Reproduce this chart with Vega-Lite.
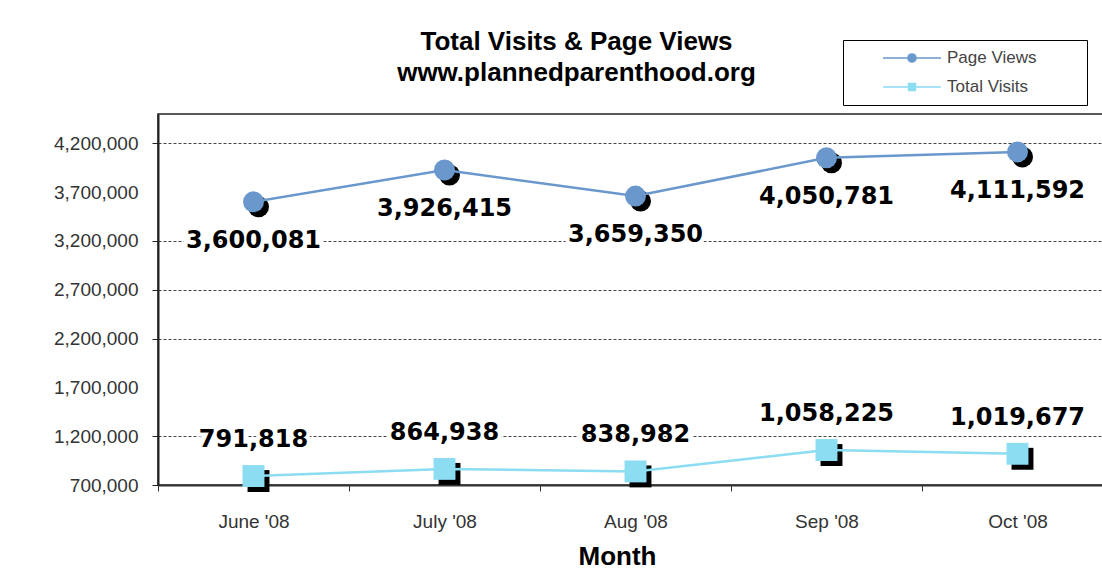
{
  "$schema": "https://vega.github.io/schema/vega-lite/v6.json",
  "autosize": "none",
  "width": 955,
  "height": 371,
  "padding": {"left": 158, "top": 114, "right": 0, "bottom": 90},
  "background": "white",
  "title": {
    "text": ["Total Visits & Page Views", "www.plannedparenthood.org"],
    "font": "Liberation Sans",
    "fontSize": 26,
    "fontWeight": "bold",
    "color": "black",
    "lineHeight": 31,
    "anchor": "middle",
    "frame": "group",
    "offset": -46,
    "dx": -59
  },
  "config": {
    "view": {"stroke": "#222", "strokeWidth": 1.5},
    "axis": {"labelFont": "Liberation Sans", "titleFont": "Liberation Sans"}
  },
  "data": {
    "values": [
      {"month": "June '08", "series": "Page Views", "value": 3600081},
      {"month": "July '08", "series": "Page Views", "value": 3926415},
      {"month": "Aug '08", "series": "Page Views", "value": 3659350},
      {"month": "Sep '08", "series": "Page Views", "value": 4050781},
      {"month": "Oct '08", "series": "Page Views", "value": 4111592},
      {"month": "June '08", "series": "Total Visits", "value": 791818},
      {"month": "July '08", "series": "Total Visits", "value": 864938},
      {"month": "Aug '08", "series": "Total Visits", "value": 838982},
      {"month": "Sep '08", "series": "Total Visits", "value": 1058225},
      {"month": "Oct '08", "series": "Total Visits", "value": 1019677}
    ]
  },
  "encoding": {
    "x": {
      "field": "month",
      "type": "nominal",
      "sort": null,
      "bandPosition": 0.5,
      "scale": {"type": "band", "paddingInner": 0, "paddingOuter": 0},
      "axis": {
        "title": "Month",
        "titleFontSize": 26,
        "titleFontWeight": "bold",
        "titleColor": "black",
        "titleX": 459,
        "titlePadding": 12,
        "labelAngle": 0,
        "labelFontSize": 19,
        "labelColor": "#333",
        "labelPadding": 21,
        "tickBand": "extent",
        "tickSize": 6,
        "tickColor": "#333",
        "domainColor": "#333",
        "domainWidth": 2,
        "grid": false
      }
    },
    "y": {
      "field": "value",
      "type": "quantitative",
      "scale": {"domain": [700000, 4500000], "nice": false, "zero": false},
      "axis": {
        "title": null,
        "values": [700000, 1200000, 1700000, 2200000, 2700000, 3200000, 3700000, 4200000],
        "format": ",d",
        "labelFontSize": 19,
        "labelColor": "#333",
        "labelPadding": 14,
        "tickSize": 6,
        "tickColor": "#222",
        "domainColor": "#222",
        "domainWidth": 2,
        "grid": true,
        "gridColor": "#444",
        "gridDash": [3, 2],
        "gridWidth": 1,
        "gridOpacity": {"condition": {"test": "datum.value === 3700000 || datum.value === 1700000 || datum.value === 700000", "value": 0}, "value": 1},
        "tickOpacity": {"condition": {"test": "datum.value === 3700000 || datum.value === 1700000", "value": 0}, "value": 1}
      }
    }
  },
  "layer": [
    {
      "transform": [{"filter": "datum.series === 'Page Views'"}],
      "mark": {"type": "point", "shape": "circle", "filled": true, "size": 440, "color": "black", "opacity": 1, "xOffset": 5, "yOffset": 5}
    },
    {
      "transform": [{"filter": "datum.series === 'Total Visits'"}],
      "mark": {"type": "point", "shape": "square", "filled": true, "size": 480, "color": "black", "opacity": 1, "xOffset": 5, "yOffset": 5}
    },
    {
      "mark": {"type": "line", "strokeWidth": 2.5},
      "encoding": {
        "color": {
          "field": "series",
          "type": "nominal",
          "scale": {"domain": ["Page Views", "Total Visits"], "range": ["#6A98CC", "#8CDCF2"]},
          "legend": {
            "title": " ",
            "titleOrient": "right",
            "titlePadding": 43,
            "orient": "none",
            "legendX": 685,
            "legendY": -74,
            "fillColor": "white",
            "strokeColor": "black",
            "padding": 8,
            "symbolSize": 3364,
            "symbolOffset": 31,
            "clipHeight": 20,
            "rowPadding": 9,
            "labelOffset": 5,
            "labelFont": "Liberation Sans",
            "labelFontSize": 17,
            "labelColor": "#444",
            "labelLimit": 200,
            "encode": {
              "symbols": {
                "update": {
                  "shape": {"signal": "datum.value === 'Page Views' ? 'M-1,0L1,0M0.14,0A0.14,0.14,0,1,1,-0.14,0A0.14,0.14,0,1,1,0.14,0Z' : 'M-1,0L1,0M-0.12,-0.12L0.12,-0.12L0.12,0.12L-0.12,0.12Z'"},
                  "fill": {"signal": "datum.value === 'Page Views' ? '#6A98CC' : '#8CDCF2'"},
                  "stroke": {"signal": "datum.value === 'Page Views' ? '#6A98CC' : '#8CDCF2'"},
                  "strokeWidth": {"value": 1.5},
                  "opacity": {"value": 1}
                }
              }
            }
          }
        }
      }
    },
    {
      "transform": [{"filter": "datum.series === 'Page Views'"}],
      "mark": {"type": "point", "shape": "circle", "filled": true, "size": 440, "color": "#6A98CC", "opacity": 1}
    },
    {
      "transform": [{"filter": "datum.series === 'Total Visits'"}],
      "mark": {"type": "point", "shape": "square", "filled": true, "size": 480, "color": "#8CDCF2", "opacity": 1}
    },
    {
      "transform": [{"filter": "datum.series === 'Page Views'"}],
      "mark": {"type": "text", "font": "DejaVu Sans", "fontWeight": "bold", "fontSize": 24, "dy": 39, "baseline": "middle", "stroke": "white", "strokeWidth": 8, "fill": "white"},
      "encoding": {"text": {"field": "value", "type": "quantitative", "format": ",d"}}
    },
    {
      "transform": [{"filter": "datum.series === 'Page Views'"}],
      "mark": {"type": "text", "font": "DejaVu Sans", "fontWeight": "bold", "fontSize": 24, "dy": 39, "baseline": "middle", "color": "black"},
      "encoding": {"text": {"field": "value", "type": "quantitative", "format": ",d"}}
    },
    {
      "transform": [{"filter": "datum.series === 'Total Visits'"}],
      "mark": {"type": "text", "font": "DejaVu Sans", "fontWeight": "bold", "fontSize": 24, "dy": -36, "baseline": "middle", "stroke": "white", "strokeWidth": 8, "fill": "white"},
      "encoding": {"text": {"field": "value", "type": "quantitative", "format": ",d"}}
    },
    {
      "transform": [{"filter": "datum.series === 'Total Visits'"}],
      "mark": {"type": "text", "font": "DejaVu Sans", "fontWeight": "bold", "fontSize": 24, "dy": -36, "baseline": "middle", "color": "black"},
      "encoding": {"text": {"field": "value", "type": "quantitative", "format": ",d"}}
    }
  ]
}
